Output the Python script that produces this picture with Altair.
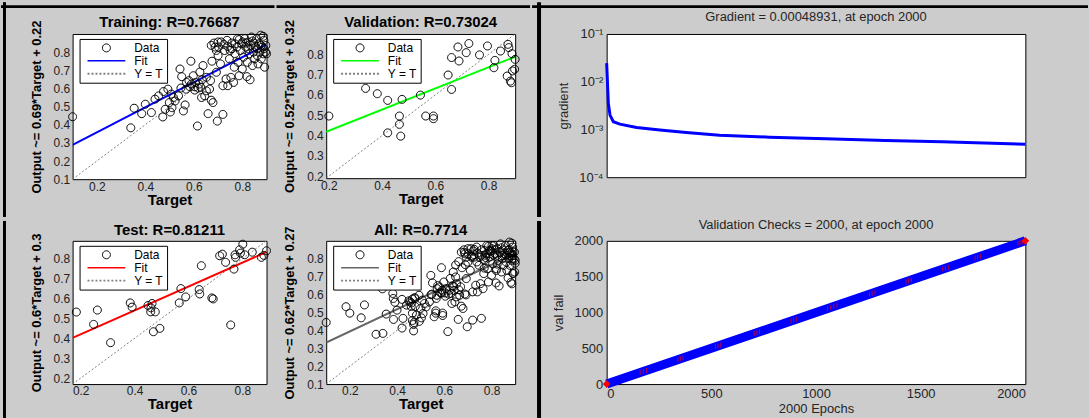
import altair as alt
import pandas as pd

FONT = "Liberation Sans"
SER = ["Data", "Fit", "Y = T"]
CIRCLE = "M-0.8,0A0.8,0.8,0,1,1,0.8,0A0.8,0.8,0,1,1,-0.8,0Z"
SEG = "M-3.8,0L3.8,0"
BG = "#cccccc"
TXT = "#262626"

# ---- regression data: targets and network outputs ----
train_t = [0.10, 0.34, 0.354, 0.385, 0.40, 0.425, 0.44, 0.455, 0.475, 0.472, 0.482, 0.493, 0.499,
           0.503, 0.51, 0.516, 0.507, 0.547, 0.543, 0.557, 0.564, 0.55, 0.568, 0.58, 0.588, 0.59,
           0.598, 0.607, 0.615, 0.618, 0.625, 0.629, 0.634, 0.638, 0.645, 0.652, 0.659, 0.665,
           0.672, 0.669, 0.675, 0.679, 0.688, 0.693, 0.697, 0.70, 0.70, 0.71, 0.72, 0.72, 0.727,
           0.733, 0.737, 0.74, 0.747, 0.75, 0.753, 0.757, 0.764, 0.767, 0.77, 0.778, 0.78, 0.783,
           0.787, 0.792, 0.797, 0.80, 0.805, 0.81, 0.815, 0.819, 0.821, 0.824, 0.828, 0.832, 0.835,
           0.838, 0.842, 0.846, 0.848, 0.851, 0.855, 0.859, 0.862, 0.865, 0.869, 0.873, 0.876,
           0.878, 0.882, 0.886, 0.889, 0.892, 0.896, 0.897, 0.672, 0.683, 0.693, 0.702, 0.713,
           0.724, 0.74, 0.756, 0.77, 0.787, 0.801, 0.815, 0.824, 0.842, 0.862, 0.878, 0.889, 0.90,
           0.886, 0.57, 0.604, 0.622, 0.584, 0.632, 0.652, 0.604, 0.537, 0.523]
train_o = [0.444, 0.383, 0.491, 0.461, 0.513, 0.467, 0.541, 0.559, 0.583, 0.443, 0.485, 0.596, 0.522,
           0.470, 0.494, 0.55, 0.569, 0.602, 0.707, 0.476, 0.509, 0.665, 0.596, 0.643, 0.75, 0.624,
           0.67, 0.633, 0.393, 0.602, 0.69, 0.606, 0.648, 0.726, 0.559, 0.661, 0.461, 0.596,
           0.535, 0.643, 0.75, 0.522, 0.828, 0.689, 0.42, 0.856, 0.781, 0.735, 0.615, 0.457, 0.809,
           0.652, 0.865, 0.615, 0.763, 0.809, 0.661, 0.85, 0.633, 0.717, 0.791, 0.828, 0.874, 0.744,
           0.67, 0.809, 0.846, 0.707, 0.772, 0.874, 0.828, 0.665, 0.744, 0.856, 0.791, 0.648, 0.837,
           0.883, 0.726, 0.80, 0.85, 0.763, 0.828, 0.874, 0.781, 0.735, 0.846, 0.80, 0.893,
           0.763, 0.828, 0.791, 0.865, 0.717, 0.80, 0.837, 0.837, 0.85, 0.809, 0.828, 0.856,
           0.843, 0.831, 0.819, 0.846, 0.869, 0.856, 0.85, 0.819, 0.861, 0.819, 0.837, 0.819, 0.791,
           0.887, 0.633, 0.609, 0.624, 0.609, 0.55, 0.587, 0.591, 0.559, 0.531]

val_t = [0.2, 0.327, 0.338, 0.382, 0.421, 0.421, 0.465, 0.465, 0.47, 0.475, 0.544, 0.564, 0.593,
         0.593, 0.648, 0.661, 0.661, 0.685, 0.689, 0.716, 0.726, 0.766, 0.796, 0.824, 0.82, 0.845,
         0.87, 0.873, 0.876, 0.882, 0.886, 0.888, 0.89, 0.898, 0.9]
val_o = [0.496, 0.833, 0.632, 0.606, 0.573, 0.413, 0.496, 0.455, 0.397, 0.578, 0.599, 0.496, 0.496,
         0.483, 0.698, 0.784, 0.627, 0.836, 0.767, 0.808, 0.853, 0.797, 0.841, 0.77, 0.734, 0.816,
         0.693, 0.849, 0.833, 0.668, 0.66, 0.803, 0.718, 0.726, 0.775]

test_t = [0.184, 0.248, 0.262, 0.311, 0.384, 0.391, 0.45, 0.461, 0.465, 0.46, 0.477, 0.47, 0.494,
          0.566, 0.572, 0.59, 0.64, 0.642, 0.648, 0.687, 0.692, 0.716, 0.726, 0.738, 0.757, 0.769,
          0.773, 0.775, 0.79, 0.793, 0.802, 0.809, 0.837, 0.871, 0.88, 0.89]
test_o = [0.532, 0.47, 0.542, 0.378, 0.578, 0.557, 0.565, 0.553, 0.575, 0.533, 0.533, 0.433, 0.45,
          0.578, 0.65, 0.608, 0.645, 0.623, 0.765, 0.603, 0.598, 0.815, 0.823, 0.782, 0.467, 0.748,
          0.82, 0.807, 0.845, 0.828, 0.873, 0.82, 0.833, 0.807, 0.817, 0.84]

# ---- training record ----
grad_epoch = [0, 3, 8, 16, 32, 63, 143, 254, 380, 539, 777, 1046, 1331, 1601, 2000]
grad_value = [0.0245, 0.012, 0.0035, 0.002, 0.00145, 0.00129, 0.0011, 0.00097, 0.00086, 0.00076,
              0.00069, 0.00064, 0.00059, 0.00055, 0.00048931]

vf_epoch = [0, 2000]
vf_checks = [0, 2000]
vf_mark_epoch = [160, 175, 190, 340, 352, 365, 520, 532, 545, 705, 718, 730, 880, 893, 906,
                 1055, 1070, 1085, 1100, 1255, 1268, 1282, 1430, 1442, 1455, 1605, 1618, 1632,
                 1760, 1772, 1785, 1965, 1975, 1985]

one = pd.DataFrame({"k": [0]})

# grid geometry (page pixels): columns 0-275 | 275-530 | 530-1089, rows 0-216 | 216-418;
# plot origins sit at y=32 (top row) and y=236 (bottom row)
ROW1 = (-32, 184)
ROW2 = (-20, 182)


def frame(x0, x1, rows, top=None, left=None, left_w=3):
    """Invisible cell rectangle (pixel offsets from the plot origin) plus panel edge lines."""
    y0, y1 = rows
    out = [alt.Chart(one).mark_rect(fillOpacity=0, strokeOpacity=0, color=BG).encode(
        x=alt.value(x0), x2=alt.value(x1), y=alt.value(y0), y2=alt.value(y1))]
    if top is not None:
        out.append(alt.Chart(one).mark_rect(color="black").encode(
            x=alt.value(x0), x2=alt.value(x1), y=alt.value(top), y2=alt.value(top + 3)))
    if left is not None:
        out.append(alt.Chart(one).mark_rect(color="black").encode(
            x=alt.value(left), x2=alt.value(left + left_w), y=alt.value(y0), y2=alt.value(y1)))
    return out


def heading(text, cx, cy, size, weight, color):
    return alt.Chart(one).mark_text(font=FONT, fontSize=size, fontWeight=weight, color=color,
                                    align="center", baseline="middle").encode(
        x=alt.value(cx), y=alt.value(cy), text=alt.value(text))


def scatter(title, t, o, slope, icpt, lo, hi, fit_color, yticks, w, h, cell, head_y):
    pts = pd.DataFrame({"t": t, "o": o, "s": "Data"})
    fit = pd.DataFrame({"t": [lo, hi], "o": [slope * lo + icpt, slope * hi + icpt]})
    ident = pd.DataFrame({"t": [lo, hi], "o": [lo, hi]})
    sx = alt.Scale(domain=[lo, hi], nice=False, zero=False)
    sy = alt.Scale(domain=[lo, hi], nice=False, zero=False)
    xax = alt.Axis(values=[0.2, 0.4, 0.6, 0.8], format=".1f", title="Target", ticks=False,
                   labelOverlap=False, labelFont=FONT, labelFontSize=12, labelColor="#222222",
                   labelPadding=2, titleFont=FONT, titleFontSize=15, titleFontWeight="bold",
                   titleColor="black", titlePadding=0)
    yax = alt.Axis(values=yticks, format=".1f", title=f"Output ~= {slope}*Target + {icpt}",
                   ticks=False, labelOverlap=False, labelFont=FONT, labelFontSize=12,
                   labelColor="#222222", labelPadding=3, titleFont=FONT, titleFontSize=13,
                   titleFontWeight="bold", titleColor="black", titlePadding=10)
    leg = alt.Legend(title=None, orient="none", legendX=7, legendY=5, symbolSize=100,
                     symbolOffset=18, labelOffset=22, labelFont=FONT, labelFontSize=12,
                     labelColor="black", padding=3, rowPadding=1, strokeColor="black",
                     fillColor="white", symbolFillColor="transparent")
    dots = alt.Chart(pts).mark_point(filled=False, size=100, opacity=1).encode(
        x=alt.X("t:Q", scale=sx, axis=xax),
        y=alt.Y("o:Q", scale=sy, axis=yax),
        color=alt.Color("s:N", scale=alt.Scale(domain=SER, range=["#000000", fit_color, "#808080"]), legend=leg),
        shape=alt.Shape("s:N", scale=alt.Scale(domain=SER, range=[CIRCLE, SEG, SEG]), legend=leg),
        strokeDash=alt.StrokeDash("s:N", scale=alt.Scale(domain=SER, range=[[1, 0], [1, 0], [2, 2]]), legend=leg),
        strokeWidth=alt.StrokeWidth("s:N", scale=alt.Scale(domain=SER, range=[1, 2, 1]), legend=leg),
    )
    diag = alt.Chart(ident).mark_line(color="#808080", strokeDash=[2, 2], strokeWidth=1, clip=True).encode(
        x=alt.X("t:Q", scale=sx, axis=xax), y=alt.Y("o:Q", scale=sy, axis=yax))
    fitl = alt.Chart(fit).mark_line(color=fit_color, strokeWidth=2, clip=True).encode(
        x=alt.X("t:Q", scale=sx, axis=xax), y=alt.Y("o:Q", scale=sy, axis=yax))
    head = heading(title, w / 2, head_y, 15, "bold", "black")
    return alt.layer(*cell, head, diag, fitl, dots).properties(width=w, height=h)


train = scatter("Training: R=0.76687", train_t, train_o, 0.69, 0.22, 0.1, 0.9, "#0000ff",
                [0.1, 0.2, 0.3, 0.4, 0.5, 0.6, 0.7, 0.8], 195, 146,
                frame(-72, 203, ROW1, top=-29, left=-70), -12)
val = scatter("Validation: R=0.73024", val_t, val_o, 0.52, 0.32, 0.19, 0.9, "#00ff00",
              [0.2, 0.3, 0.4, 0.5, 0.6, 0.7, 0.8], 190, 145,
              frame(-50, 205, ROW1, top=-29), -12)
test = scatter("Test: R=0.81211", test_t, test_o, 0.6, 0.3, 0.17, 0.89, "#ff0000",
               [0.2, 0.3, 0.4, 0.5, 0.6, 0.7, 0.8], 195, 144,
               frame(-72, 203, ROW2, left=-70), -11)
all_t = train_t + val_t + test_t
all_o = train_o + val_o + test_o
allc = scatter("All: R=0.7714", all_t, all_o, 0.62, 0.27, 0.1, 0.9, "#666666",
               [0.1, 0.2, 0.3, 0.4, 0.5, 0.6, 0.7, 0.8], 190, 144,
               frame(-50, 205, ROW2), -11)

gdf = pd.DataFrame({"epoch": grad_epoch, "g": grad_value})
grad_line = alt.Chart(gdf).mark_line(color="#0000ff", strokeWidth=3).encode(
    x=alt.X("epoch:Q", scale=alt.Scale(domain=[0, 2000], nice=False),
            axis=alt.Axis(labels=False, ticks=False, title=None, values=[500, 1000, 1500])),
    y=alt.Y("g:Q", scale=alt.Scale(type="log", domain=[1e-4, 1e-1], nice=False),
            axis=alt.Axis(values=[1e-4, 1e-3, 1e-2, 1e-1], ticks=False, labelOverlap=False,
                          labelExpr="datum.value > 0.05 ? '10⁻¹' : datum.value > 0.005 ? '10⁻²' : datum.value > 0.0005 ? '10⁻³' : '10⁻⁴'",
                          labelFont=FONT, labelFontSize=13, labelColor=TXT, labelPadding=4,
                          title="gradient", titleFont=FONT, titleFontSize=13, titleFontWeight="normal",
                          titleColor=TXT, titlePadding=8)),
)
grad = alt.layer(*frame(-75, 484, ROW1, top=-29, left=-70, left_w=4),
                 heading("Gradient = 0.00048931, at epoch 2000", 210.5, -17, 13, "normal", TXT),
                 grad_line).properties(width=421, height=144)

vdf = pd.DataFrame({"epoch": vf_epoch, "v": vf_checks})
mdf = pd.DataFrame({"epoch": vf_mark_epoch, "v": vf_mark_epoch})
vx = alt.Scale(domain=[0, 2000], nice=False)
vy = alt.Scale(domain=[0, 2000], nice=False)
vf_xax = alt.Axis(values=[0, 500, 1000, 1500, 2000], format="d", ticks=False,
                  labelOverlap=False, labelFont=FONT, labelFontSize=13, labelColor=TXT,
                  labelPadding=4, title="2000 Epochs", titleFont=FONT, titleFontSize=13,
                  titleFontWeight="normal", titleColor=TXT, titlePadding=2)
vf_yax = alt.Axis(values=[0, 500, 1000, 1500, 2000], format="d", ticks=False,
                  labelOverlap=False, labelFont=FONT, labelFontSize=13, labelColor=TXT,
                  labelPadding=4, title="val fail", titleFont=FONT, titleFontSize=13,
                  titleFontWeight="normal", titleColor=TXT, titlePadding=8)
vf_line = alt.Chart(vdf).mark_line(color="#0000ff", strokeWidth=9).encode(
    x=alt.X("epoch:Q", scale=vx, axis=vf_xax), y=alt.Y("v:Q", scale=vy, axis=vf_yax))
vf_ticks = alt.Chart(mdf).mark_tick(color="#ff0000", orient="vertical", size=5, thickness=1).encode(
    x=alt.X("epoch:Q", scale=vx, axis=vf_xax), y=alt.Y("v:Q", scale=vy, axis=vf_yax))
vf_ends = alt.Chart(vdf).mark_point(shape="diamond", filled=True, color="#ff0000", size=60, opacity=1).encode(
    x=alt.X("epoch:Q", scale=vx, axis=vf_xax), y=alt.Y("v:Q", scale=vy, axis=vf_yax))
vf = alt.layer(*frame(-75, 484, ROW2, left=-70, left_w=4),
               heading("Validation Checks = 2000, at epoch 2000", 210.5, -16, 13, "normal", TXT),
               vf_line, vf_ticks, vf_ends).properties(width=421, height=144)

IND = dict(color="independent", shape="independent", strokeDash="independent", strokeWidth="independent")

chart = alt.concat(train, val, grad, test, allc, vf, columns=3, spacing=0, align="each",
                   bounds="full").resolve_scale(**IND).resolve_legend(**IND).properties(
    padding=0,
    background=BG,
).configure_view(stroke="black", strokeWidth=1, fill="white").configure_axis(
    grid=False, domain=False, labelOverlap=False)

chart.save("out.html", embed_options={"renderer": "svg", "actions": False})
